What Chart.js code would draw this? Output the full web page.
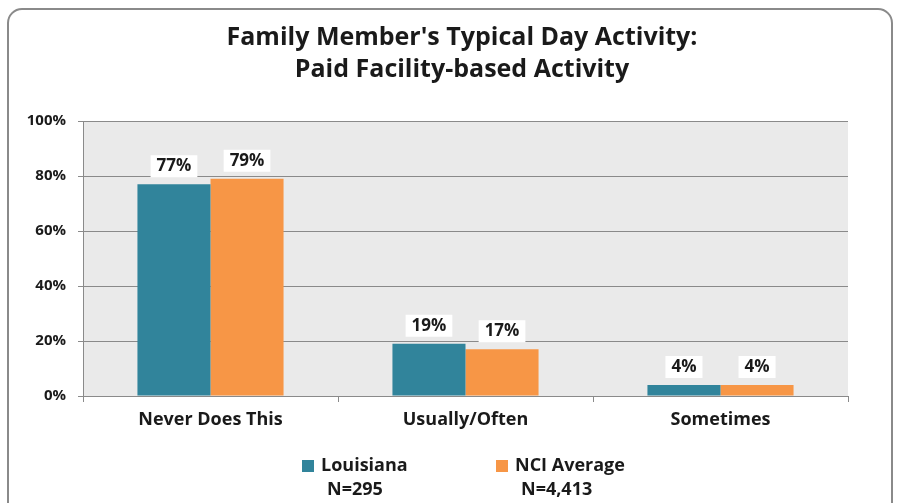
<!DOCTYPE html>
<html>
<head>
<meta charset="utf-8">
<script src="https://cdn.jsdelivr.net/npm/chart.js@4"></script>
<style>
  html, body { margin: 0; padding: 0; background: #fff; }
  #wrap { width: 900px; height: 503px; position: relative; }
</style>
</head>
<body>
<div id="wrap"><canvas id="chart" width="900" height="503"></canvas></div>
<script>
var categories = ['Never Does This', 'Usually/Often', 'Sometimes']
var louisiana = [77, 19, 4]
var nciAverage = [79, 17, 4]
var seriesNames = ['Louisiana', 'NCI Average']
var sampleSizes = ['N=295', 'N=4,413']
var titleLines = ["Family Member's Typical Day Activity:", 'Paid Facility-based Activity']
var yTicks = [0, 20, 40, 60, 80, 100]

var FONT = '"Open Sans", sans-serif'

var frame = {
  id: 'frame',
  beforeDraw: function(chart) {
    var ctx = chart.ctx
    var a = chart.chartArea
    ctx.save()
    ctx.fillStyle = '#ffffff'
    ctx.fillRect(0, 0, chart.width, chart.height)
    ctx.strokeStyle = '#8a8a8a'
    ctx.lineWidth = 2
    ctx.beginPath()
    ctx.roundRect(8, 9, 884, 540, 14)
    ctx.stroke()
    ctx.fillStyle = '#eaeaea'
    ctx.fillRect(a.left, a.top, a.right - a.left, a.bottom - a.top)
    // title
    ctx.fillStyle = '#1a1a1a'
    ctx.font = 'bold 25px ' + FONT
    ctx.textAlign = 'center'
    ctx.textBaseline = 'middle'
    ctx.fillText(titleLines[0], 462, 38)
    ctx.fillText(titleLines[1], 462, 70)
    ctx.restore()
  },
  afterDatasetsDraw: function(chart) {
    var ctx = chart.ctx
    ctx.save()
    ctx.font = 'bold 17px ' + FONT
    ctx.textAlign = 'center'
    ctx.textBaseline = 'middle'
    chart.data.datasets.forEach(function(ds, i) {
      chart.getDatasetMeta(i).data.forEach(function(bar, j) {
        var txt = ds.data[j] + '%'
        var w = ctx.measureText(txt).width + 12
        var y = bar.y - 18
        ctx.fillStyle = '#ffffff'
        ctx.fillRect(bar.x - w / 2, y - 11, w, 22)
        ctx.fillStyle = '#1a1a1a'
        ctx.fillText(txt, bar.x, y)
      })
    })
    // legend with sample sizes
    ctx.font = 'bold 18px ' + FONT
    var items = [
      { x: 302, color: chart.data.datasets[0].backgroundColor },
      { x: 496, color: chart.data.datasets[1].backgroundColor }
    ]
    items.forEach(function(it, i) {
      ctx.fillStyle = it.color
      ctx.fillRect(it.x, 460, 12, 12)
      ctx.fillStyle = '#1a1a1a'
      ctx.textAlign = 'left'
      ctx.fillText(seriesNames[i], it.x + 19, 466)
      ctx.fillText(sampleSizes[i], it.x + 25, 490)
    })
    ctx.restore()
  }
}

new Chart(document.getElementById('chart').getContext('2d'), {
  type: 'bar',
  data: {
    labels: categories,
    datasets: [
      { label: seriesNames[0], data: louisiana, backgroundColor: '#31849b' },
      { label: seriesNames[1], data: nciAverage, backgroundColor: '#f79646' }
    ]
  },
  options: {
    responsive: false,
    animation: false,
    layout: { padding: { left: 0, right: 52, top: 121, bottom: 0 } },
    datasets: { bar: { categoryPercentage: 0.573, barPercentage: 1.0 } },
    plugins: {
      legend: { display: false },
      tooltip: { enabled: false },
      title: { display: false }
    },
    scales: {
      x: {
        afterFit: function(scale) { scale.height = 107 },
        grid: { drawOnChartArea: false, drawTicks: true, tickLength: 6, color: '#8a8a8a' },
        border: { color: '#8a8a8a' },
        ticks: { color: '#1a1a1a', padding: 7, font: { family: FONT, size: 18, weight: 'bold' } }
      },
      y: {
        min: 0,
        max: 100,
        afterFit: function(scale) { scale.width = 83 },
        afterBuildTicks: function(scale) { scale.ticks = yTicks.map(function(v) { return { value: v } }) },
        grid: { color: '#8a8a8a', tickLength: 5 },
        border: { color: '#8a8a8a' },
        ticks: {
          color: '#1a1a1a',
          padding: 12,
          font: { family: FONT, size: 15, weight: 'bold' },
          callback: function(v) { return v + '%' }
        }
      }
    }
  },
  plugins: [frame]
})
</script>
</body>
</html>
